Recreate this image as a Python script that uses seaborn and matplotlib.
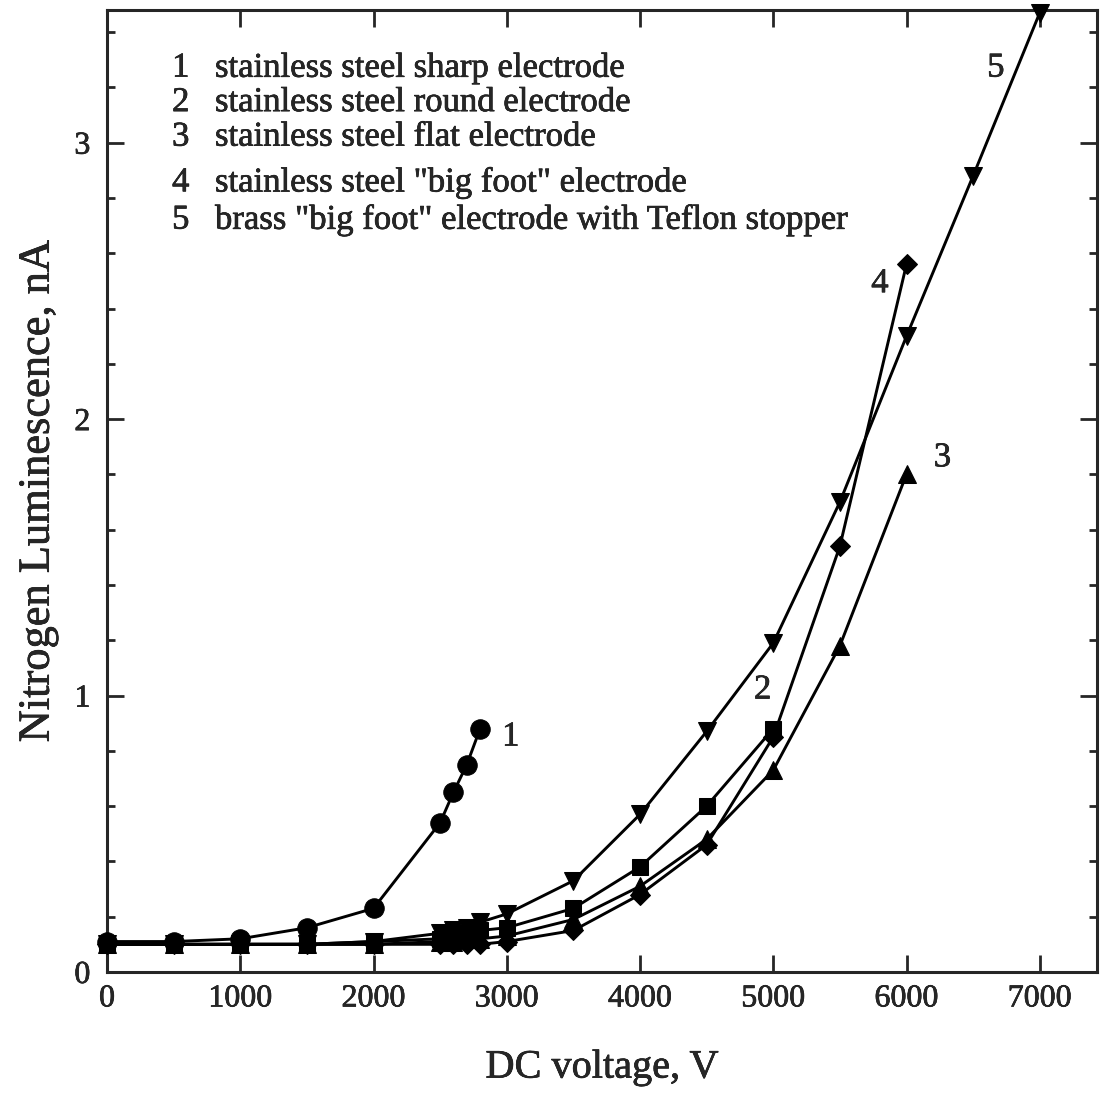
import matplotlib
matplotlib.use("Agg")
import matplotlib.pyplot as plt
import matplotlib.patheffects as pe
import pandas as pd
import seaborn as sns
from matplotlib.ticker import MultipleLocator

# voltages (V) and nitrogen luminescence (nA)
v1 = [0, 500, 1000, 1500, 2000, 2500, 2600, 2700, 2800]
i1 = [0.11, 0.11, 0.12, 0.16, 0.23, 0.54, 0.65, 0.75, 0.88]

v2 = [0, 500, 1000, 1500, 2000, 2500, 2600, 2700, 2800, 3000, 3500, 4000, 4500, 5000]
i2 = [0.10, 0.10, 0.10, 0.10, 0.11, 0.12, 0.13, 0.14, 0.15, 0.16, 0.23, 0.38, 0.60, 0.88]

v3 = [0, 500, 1000, 1500, 2000, 2500, 2600, 2700, 2800, 3000, 3500, 4000, 4500, 5000, 5500, 6000]
i3 = [0.10, 0.10, 0.10, 0.10, 0.10, 0.11, 0.11, 0.12, 0.12, 0.13, 0.19, 0.31, 0.48, 0.73, 1.18, 1.80]

v4 = [0, 500, 1000, 1500, 2000, 2500, 2600, 2700, 2800, 3000, 3500, 4000, 4500, 5000, 5500, 6000]
i4 = [0.10, 0.10, 0.10, 0.10, 0.10, 0.10, 0.10, 0.10, 0.10, 0.11, 0.15, 0.28, 0.46, 0.85, 1.54, 2.56]

v5 = [0, 500, 1000, 1500, 2000, 2500, 2600, 2700, 2800, 3000, 3500, 4000, 4500, 5000,
      5500, 6000, 6500, 7000]
i5 = [0.10, 0.10, 0.10, 0.10, 0.11, 0.14, 0.15, 0.16, 0.18, 0.21, 0.33, 0.57, 0.87, 1.19,
      1.70, 2.30, 2.88, 3.47]

legend_nums = ["1", "2", "3", "4", "5"]
legend_text = [
    "stainless steel sharp electrode",
    "stainless steel round electrode",
    "stainless steel flat electrode",
    'stainless steel "big foot" electrode',
    'brass "big foot" electrode with Teflon stopper',
]

series = [
    (v1, i1, "o", 14),
    (v2, i2, "s", 12),
    (v3, i3, "^", 13),
    (v4, i4, "D", 10),
    (v5, i5, "v", 13),
]

sns.set_style("ticks")
plt.rcParams["font.family"] = ["Liberation Serif", "DejaVu Serif"]
plt.rcParams["axes.linewidth"] = 2.2

# scanned print looks a bit heavier than plain Times
heavy = [pe.withStroke(linewidth=0.45, foreground="black")]

fig = plt.figure(figsize=(11.07, 10.99), dpi=100)
ax = fig.add_axes([0.0967, 0.1156, 0.8943, 0.8753])

for v, i, m, ms in series:
    df = pd.DataFrame({"voltage": v, "lum": i})
    sns.lineplot(data=df, x="voltage", y="lum", ax=ax, color="black", lw=2.1,
                 marker=m, markersize=ms, markeredgecolor="black",
                 markerfacecolor="black", clip_on=False, zorder=3)

ax.set_xlim(0, 7430)
ax.set_ylim(0, 3.48)
ax.xaxis.set_major_locator(MultipleLocator(1000))
ax.yaxis.set_major_locator(MultipleLocator(1))
ax.yaxis.set_minor_locator(MultipleLocator(0.2))
ax.tick_params(which="both", direction="in", top=True, right=True, width=2)
ax.tick_params(which="major", length=12, labelsize=23, pad=9)
ax.tick_params(which="minor", length=6)
ax.tick_params(axis="y", pad=12)
for lab in ax.get_xticklabels() + ax.get_yticklabels():
    lab.set_path_effects(heavy)

ax.set_xlabel("DC voltage, V", fontsize=29, labelpad=26, path_effects=heavy)
ax.set_ylabel("Nitrogen Luminescence, nA", fontsize=32, labelpad=12, path_effects=heavy)

# series labels next to curves
for txt, x, y in [("1", 3030, 0.85), ("2", 4920, 1.02), ("3", 6270, 1.86),
                  ("4", 5800, 2.49), ("5", 6670, 3.27)]:
    ax.text(x, y, txt, fontsize=25, ha="center", va="center", path_effects=heavy)

# legend block as plain text lines
for num, txt, y in zip(legend_nums, legend_text, [3.27, 3.145, 3.02, 2.855, 2.72]):
    ax.text(488, y, num, fontsize=25, ha="left", va="center", path_effects=heavy)
    ax.text(810, y, txt, fontsize=25, ha="left", va="center", path_effects=heavy)

fig.savefig("out.png", dpi=100)
